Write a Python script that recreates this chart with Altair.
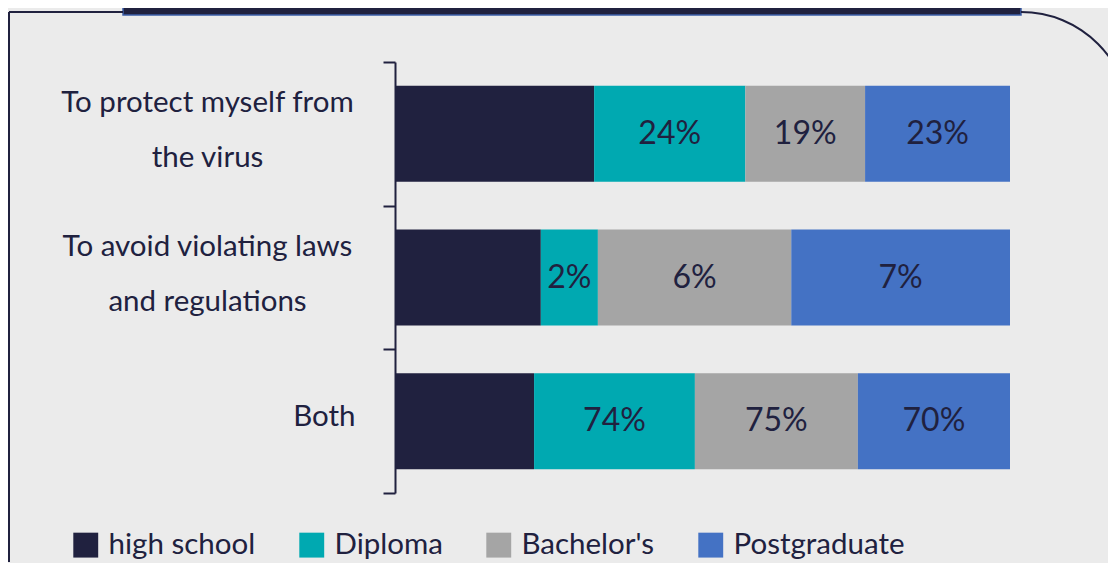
import altair as alt
import pandas as pd

reasons = [
    "To protect myself from the virus",
    "To avoid violating laws and regulations",
    "Both",
]
levels = ["high school", "Diploma", "Bachelor's", "Postgraduate"]
high_school = [31.6, 4.6, 64.0]
diploma = [24, 1.8, 74]
bachelors = [19, 6.1, 75]
postgraduate = [23, 6.9, 70]
colors = ["#20213f", "#00a9b1", "#a5a5a5", "#4472c4"]

NAVY = "#20213f"
FONT = "Lato"

rows = []
for i, (lvl, vals) in enumerate(zip(levels, [high_school, diploma, bachelors, postgraduate])):
    for r, v in zip(reasons, vals):
        rows.append({"reason": r, "level": lvl, "order": i, "value": v})
df = pd.DataFrame(rows)

label_expr = (
    "datum.value == 'To protect myself from the virus' ? ['To protect myself from', 'the virus'] : "
    "datum.value == 'To avoid violating laws and regulations' ? ['To avoid violating laws', 'and regulations'] : "
    "datum.label"
)

y_enc = alt.Y(
    "reason:N",
    sort=reasons,
    scale=alt.Scale(paddingInner=0, paddingOuter=0),
    axis=alt.Axis(
        title=None,
        labelExpr=label_expr,
        labelFont=FONT,
        labelFontSize=29.5,
        labelColor=NAVY,
        labelLineHeight=55,
        labelAlign={"condition": {"test": "datum.value == 'Both'", "value": "right"}, "value": "center"},
        labelPadding={"condition": {"test": "datum.value == 'Both'", "value": 28}, "value": 176},
        labelOffset={"condition": {"test": "datum.value == 'Both'", "value": -5}, "value": -31},
        labelLimit=400,
        tickBand="extent",
        tickSize=12,
        tickWidth=2,
        tickColor=NAVY,
        domainColor=NAVY,
        domainWidth=2,
        grid=False,
    ),
)

base = alt.Chart(df).transform_stack(
    stack="value",
    groupby=["reason"],
    as_=["x0", "x1"],
    offset="normalize",
    sort=[alt.SortField("order", order="ascending")],
).transform_calculate(
    mid="(datum.x0 + datum.x1) / 2",
    lbl="format(datum.value, '.0f') + '%'",
)

bars = base.mark_bar(height={"band": 0.668}).encode(
    x=alt.X("x0:Q", scale=alt.Scale(domain=[0, 1]), axis=None),
    x2="x1:Q",
    y=y_enc,
    color=alt.Color(
        "level:N",
        scale=alt.Scale(domain=levels, range=colors),
        legend=alt.Legend(
            title=None,
            orient="none",
            legendX=-324,
            legendY=468,
            direction="horizontal",
            symbolType="square",
            symbolSize=620,
            symbolStrokeWidth=0,
            labelFont=FONT,
            labelFontSize=29.5,
            labelColor=NAVY,
            labelOffset=8,
            columnPadding=41,
            labelLimit=300,
        ),
    ),
)

texts = base.transform_filter("datum.level != 'high school'").mark_text(
    font=FONT, fontSize=32, color=NAVY
).encode(
    x="mid:Q",
    y=alt.Y("reason:N", sort=reasons),
    text="lbl:N",
)

deco_df = pd.DataFrame({"a": [0]})
top_bar = alt.Chart(deco_df).mark_rect(color=NAVY, stroke="#3b5ea8", strokeWidth=1.5).encode(
    x=alt.value(-272), x2=alt.value(626), y=alt.value(-64), y2=alt.value(-47)
)
left_line = alt.Chart(deco_df).mark_rule(color=NAVY, strokeWidth=2).encode(
    x=alt.value(-386), y=alt.value(-50), y2=alt.value(500)
)
top_line = alt.Chart(deco_df).mark_rule(color=NAVY, strokeWidth=2).encode(
    x=alt.value(-386), x2=alt.value(-272), y=alt.value(-50)
)
corner = alt.Chart(deco_df).mark_arc(
    radius=110, radius2=108, theta=0, theta2=1.5708, color=NAVY
).encode(x=alt.value(626), y=alt.value(59))

chart = alt.layer(top_bar, left_line, top_line, corner, bars, texts).properties(
    width=615,
    height=431,
    background="#ebebeb",
    autosize=alt.AutoSizeParams(type="none"),
    padding={"left": 387, "top": 54, "right": 98, "bottom": 70},
).configure_view(stroke=None)

chart.save("out.html", embed_options={"renderer": "svg", "actions": False})
